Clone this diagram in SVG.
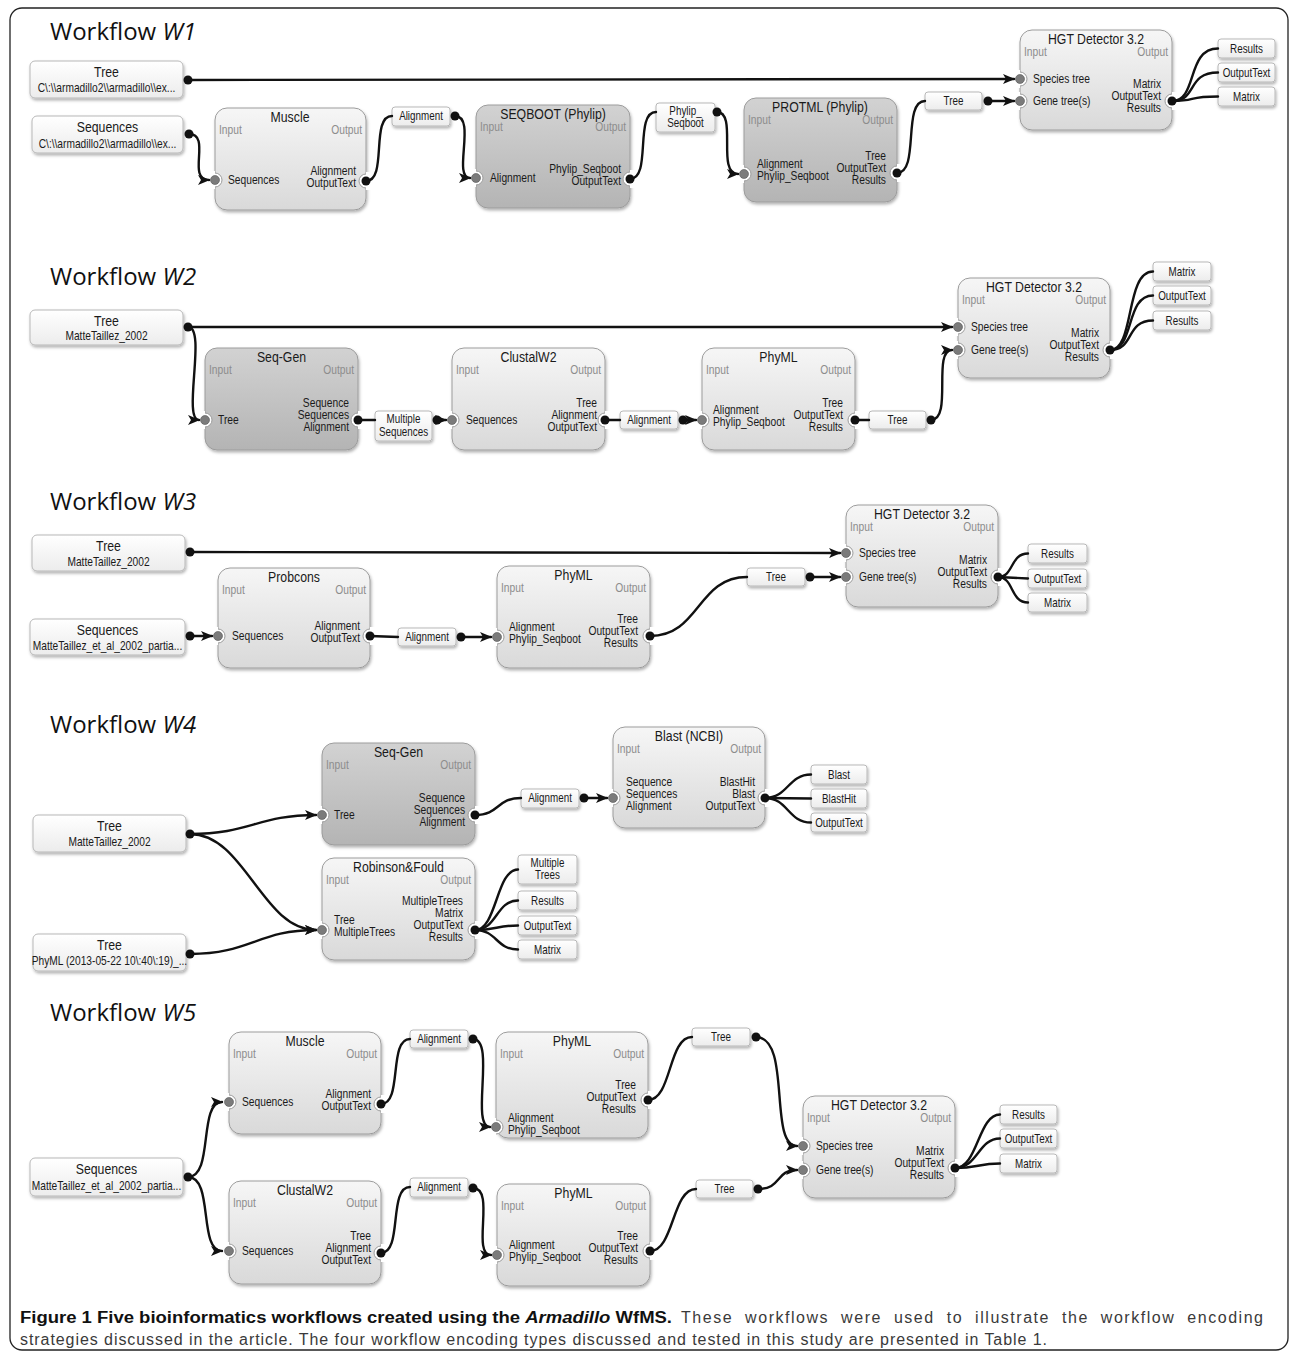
<svg xmlns="http://www.w3.org/2000/svg" width="1292" height="1358" viewBox="0 0 1292 1358">
<defs>
<linearGradient id="gL" x1="0" y1="0" x2="0" y2="1"><stop offset="0" stop-color="#f6f6f6"/><stop offset="1" stop-color="#d9d9d9"/></linearGradient>
<linearGradient id="gD" x1="0" y1="0" x2="0" y2="1"><stop offset="0" stop-color="#d2d2d2"/><stop offset="1" stop-color="#b4b4b4"/></linearGradient>
<linearGradient id="gW" x1="0" y1="0" x2="0" y2="1"><stop offset="0" stop-color="#ffffff"/><stop offset="1" stop-color="#ececec"/></linearGradient>
<filter id="sh" x="-10%" y="-10%" width="125%" height="135%"><feDropShadow dx="1" dy="2" stdDeviation="1.4" flood-color="#000" flood-opacity="0.3"/></filter>
<marker id="ar" viewBox="0 0 12 10" refX="11" refY="5" markerWidth="12" markerHeight="10" markerUnits="userSpaceOnUse" orient="auto"><path d="M0,0 L12,5 L0,10 L3,5 z" fill="#111"/></marker>
<g id="nL"><circle r="7" fill="#fff" stroke="#9c9c9c"/><rect x="-9" y="-9" width="9" height="18" fill="#fff"/><circle r="4.5" fill="#7b7b7b" stroke="#555" stroke-width="0.6"/></g>
<g id="nR"><circle r="7" fill="#fff" stroke="#9c9c9c"/><rect x="0" y="-9" width="9" height="18" fill="#fff"/></g>
</defs>
<style>
.mod{stroke:#9c9c9c;stroke-width:1;filter:url(#sh)}
.lt{fill:url(#gL)}
.dk{fill:url(#gD)}
.box{fill:url(#gW);stroke:#b8b8b8;stroke-width:1;filter:url(#sh)}
text{font-family:"Liberation Sans",Arial,sans-serif;fill:#1a1a1a}
.tt{font-size:15px;text-anchor:middle}
.io{font-size:12.5px;fill:#8c8c8c}
.e{text-anchor:end}
.pl{font-size:12.5px}
.bt{font-size:15px;text-anchor:middle}
.sub{font-size:12px;text-anchor:middle}
.lb{font-size:12px;text-anchor:middle}
.c{fill:none;stroke:#111;stroke-width:2.4;stroke-linecap:round}
.a{marker-end:url(#ar)}
.d{fill:#111}
.wf{font-family:"Open Sans","Liberation Sans",sans-serif;font-size:24px;fill:#111}
.cap{font-size:16px;fill:#3a3a3a}
.capb{font-size:16px;fill:#111;font-weight:bold}
</style>
<rect width="1292" height="1358" fill="#fff"/>
<rect x="10" y="8" width="1278" height="1342" rx="12" fill="none" stroke="#222" stroke-width="1.3"/>

<text class="wf" x="50" y="40">Workflow <tspan font-style="italic">W1</tspan></text>
<text class="wf" x="50" y="285">Workflow <tspan font-style="italic">W2</tspan></text>
<text class="wf" x="50" y="510">Workflow <tspan font-style="italic">W3</tspan></text>
<text class="wf" x="50" y="733">Workflow <tspan font-style="italic">W4</tspan></text>
<text class="wf" x="50" y="1021">Workflow <tspan font-style="italic">W5</tspan></text>

<!-- ===== W1 ===== -->
<g id="w1-tree"><rect class="box" x="30" y="61" width="153" height="37" rx="5"/><text class="bt" transform="translate(106.5 77) scale(.82 1)">Tree</text><text class="sub" transform="translate(106.5 92) scale(.85 1)">C\:\\armadillo2\\armadillo\\ex...</text></g>
<g id="w1-seq"><rect class="box" x="32" y="116" width="151" height="37" rx="5"/><text class="bt" transform="translate(107.5 132) scale(.82 1)">Sequences</text><text class="sub" transform="translate(107.5 148) scale(.85 1)">C\:\\armadillo2\\armadillo\\ex...</text></g>
<g id="w1-muscle"><rect class="mod lt" x="215" y="108" width="151" height="102" rx="12"/><use href="#nL" x="215" y="180"/><use href="#nR" x="366" y="181"/>
<text class="tt" transform="translate(290 122) scale(.82 1)">Muscle</text><text class="io" transform="translate(219 134) scale(.82 1)">Input</text><text class="io e" transform="translate(362 134) scale(.82 1)">Output</text>
<text class="pl" transform="translate(228 184) scale(.82 1)">Sequences</text><text class="pl e" transform="translate(356 175) scale(.82 1)">Alignment</text><text class="pl e" transform="translate(356 187) scale(.82 1)">OutputText</text></g>
<g id="w1-l-align"><rect class="box" x="392" y="107" width="58" height="19" rx="3"/><text class="lb" transform="translate(421 120) scale(.82 1)">Alignment</text></g>
<g id="w1-seqboot"><rect class="mod dk" x="476" y="105" width="154" height="103" rx="12"/><use href="#nL" x="476" y="178"/><use href="#nR" x="630" y="179"/>
<text class="tt" transform="translate(553 119) scale(.82 1)">SEQBOOT (Phylip)</text><text class="io" transform="translate(480 131) scale(.82 1)">Input</text><text class="io e" transform="translate(626 131) scale(.82 1)">Output</text>
<text class="pl" transform="translate(490 182) scale(.82 1)">Alignment</text><text class="pl e" transform="translate(621 173) scale(.82 1)">Phylip_Seqboot</text><text class="pl e" transform="translate(621 185) scale(.82 1)">OutputText</text></g>
<g id="w1-l-pseq"><rect class="box" x="656" y="103" width="59" height="29" rx="3"/><text class="lb" transform="translate(685.5 115) scale(.82 1)">Phylip_</text><text class="lb" transform="translate(685.5 127) scale(.82 1)">Seqboot</text></g>
<g id="w1-protml"><rect class="mod dk" x="744" y="98" width="153" height="104" rx="12"/><use href="#nL" x="744" y="174"/><use href="#nR" x="897" y="173"/>
<text class="tt" transform="translate(820 112) scale(.82 1)">PROTML (Phylip)</text><text class="io" transform="translate(748 124) scale(.82 1)">Input</text><text class="io e" transform="translate(893 124) scale(.82 1)">Output</text>
<text class="pl" transform="translate(757 168) scale(.82 1)">Alignment</text><text class="pl" transform="translate(757 180) scale(.82 1)">Phylip_Seqboot</text>
<text class="pl e" transform="translate(886 160) scale(.82 1)">Tree</text><text class="pl e" transform="translate(886 172) scale(.82 1)">OutputText</text><text class="pl e" transform="translate(886 184) scale(.82 1)">Results</text></g>
<g id="w1-l-tree"><rect class="box" x="925" y="92" width="57" height="18" rx="3"/><text class="lb" transform="translate(953.5 105) scale(.82 1)">Tree</text></g>
<g id="w1-hgt"><rect class="mod lt" x="1020" y="30" width="152" height="100" rx="12"/><use href="#nL" x="1020" y="79"/><use href="#nL" x="1020" y="101"/><use href="#nR" x="1172" y="101"/>
<text class="tt" transform="translate(1096 44) scale(.82 1)">HGT Detector 3.2</text><text class="io" transform="translate(1024 56) scale(.82 1)">Input</text><text class="io e" transform="translate(1168 56) scale(.82 1)">Output</text>
<text class="pl" transform="translate(1033 83) scale(.82 1)">Species tree</text><text class="pl" transform="translate(1033 105) scale(.82 1)">Gene tree(s)</text>
<text class="pl e" transform="translate(1161 88) scale(.82 1)">Matrix</text><text class="pl e" transform="translate(1161 100) scale(.82 1)">OutputText</text><text class="pl e" transform="translate(1161 112) scale(.82 1)">Results</text></g>
<g id="w1-o-results"><rect class="box" x="1218" y="39" width="57" height="19" rx="3"/><text class="lb" transform="translate(1246.5 53) scale(.82 1)">Results</text></g>
<g id="w1-o-outtext"><rect class="box" x="1218" y="63" width="57" height="19" rx="3"/><text class="lb" transform="translate(1246.5 77) scale(.82 1)">OutputText</text></g>
<g id="w1-o-matrix"><rect class="box" x="1218" y="87" width="57" height="19" rx="3"/><text class="lb" transform="translate(1246.5 101) scale(.82 1)">Matrix</text></g>

<!-- ===== W2 ===== -->
<g id="w2-tree"><rect class="box" x="30" y="310" width="153" height="35" rx="5"/><text class="bt" transform="translate(106.5 326) scale(.82 1)">Tree</text><text class="sub" transform="translate(106.5 340) scale(.85 1)">MatteTaillez_2002</text></g>
<g id="w2-seqgen"><rect class="mod dk" x="205" y="348" width="153" height="102" rx="12"/><use href="#nL" x="205" y="420"/><use href="#nR" x="358" y="420"/>
<text class="tt" transform="translate(281.5 362) scale(.82 1)">Seq-Gen</text><text class="io" transform="translate(209 374) scale(.82 1)">Input</text><text class="io e" transform="translate(354 374) scale(.82 1)">Output</text>
<text class="pl" transform="translate(218 424) scale(.82 1)">Tree</text><text class="pl e" transform="translate(349 407) scale(.82 1)">Sequence</text><text class="pl e" transform="translate(349 419) scale(.82 1)">Sequences</text><text class="pl e" transform="translate(349 431) scale(.82 1)">Alignment</text></g>
<g id="w2-l-mseq"><rect class="box" x="375" y="411" width="57" height="30" rx="3"/><text class="lb" transform="translate(403.5 423) scale(.82 1)">Multiple</text><text class="lb" transform="translate(403.5 436) scale(.82 1)">Sequences</text></g>
<g id="w2-clustal"><rect class="mod lt" x="452" y="348" width="153" height="102" rx="12"/><use href="#nL" x="452" y="420"/><use href="#nR" x="605" y="420"/>
<text class="tt" transform="translate(528.5 362) scale(.82 1)">ClustalW2</text><text class="io" transform="translate(456 374) scale(.82 1)">Input</text><text class="io e" transform="translate(601 374) scale(.82 1)">Output</text>
<text class="pl" transform="translate(466 424) scale(.82 1)">Sequences</text><text class="pl e" transform="translate(597 407) scale(.82 1)">Tree</text><text class="pl e" transform="translate(597 419) scale(.82 1)">Alignment</text><text class="pl e" transform="translate(597 431) scale(.82 1)">OutputText</text></g>
<g id="w2-l-align"><rect class="box" x="620" y="411" width="58" height="18" rx="3"/><text class="lb" transform="translate(649 424) scale(.82 1)">Alignment</text></g>
<g id="w2-phyml"><rect class="mod lt" x="702" y="348" width="153" height="102" rx="12"/><use href="#nL" x="702" y="420"/><use href="#nR" x="855" y="420"/>
<text class="tt" transform="translate(778.5 362) scale(.82 1)">PhyML</text><text class="io" transform="translate(706 374) scale(.82 1)">Input</text><text class="io e" transform="translate(851 374) scale(.82 1)">Output</text>
<text class="pl" transform="translate(713 414) scale(.82 1)">Alignment</text><text class="pl" transform="translate(713 426) scale(.82 1)">Phylip_Seqboot</text>
<text class="pl e" transform="translate(843 407) scale(.82 1)">Tree</text><text class="pl e" transform="translate(843 419) scale(.82 1)">OutputText</text><text class="pl e" transform="translate(843 431) scale(.82 1)">Results</text></g>
<g id="w2-l-tree"><rect class="box" x="869" y="411" width="57" height="18" rx="3"/><text class="lb" transform="translate(897.5 424) scale(.82 1)">Tree</text></g>
<g id="w2-hgt"><rect class="mod lt" x="958" y="278" width="152" height="100" rx="12"/><use href="#nL" x="958" y="327"/><use href="#nL" x="958" y="350"/><use href="#nR" x="1110" y="350"/>
<text class="tt" transform="translate(1034 292) scale(.82 1)">HGT Detector 3.2</text><text class="io" transform="translate(962 304) scale(.82 1)">Input</text><text class="io e" transform="translate(1106 304) scale(.82 1)">Output</text>
<text class="pl" transform="translate(971 331) scale(.82 1)">Species tree</text><text class="pl" transform="translate(971 354) scale(.82 1)">Gene tree(s)</text>
<text class="pl e" transform="translate(1099 337) scale(.82 1)">Matrix</text><text class="pl e" transform="translate(1099 349) scale(.82 1)">OutputText</text><text class="pl e" transform="translate(1099 361) scale(.82 1)">Results</text></g>
<g id="w2-o-matrix"><rect class="box" x="1153" y="262" width="58" height="19" rx="3"/><text class="lb" transform="translate(1182 276) scale(.82 1)">Matrix</text></g>
<g id="w2-o-outtext"><rect class="box" x="1153" y="286" width="58" height="19" rx="3"/><text class="lb" transform="translate(1182 300) scale(.82 1)">OutputText</text></g>
<g id="w2-o-results"><rect class="box" x="1153" y="311" width="58" height="19" rx="3"/><text class="lb" transform="translate(1182 325) scale(.82 1)">Results</text></g>

<!-- ===== W3 ===== -->
<g id="w3-tree"><rect class="box" x="32" y="535" width="153" height="36" rx="5"/><text class="bt" transform="translate(108.5 551) scale(.82 1)">Tree</text><text class="sub" transform="translate(108.5 566) scale(.85 1)">MatteTaillez_2002</text></g>
<g id="w3-seq"><rect class="box" x="30" y="619" width="155" height="36" rx="5"/><text class="bt" transform="translate(107.5 635) scale(.82 1)">Sequences</text><text class="sub" transform="translate(107.5 650) scale(.85 1)">MatteTaillez_et_al_2002_partia...</text></g>
<g id="w3-probcons"><rect class="mod lt" x="218" y="568" width="152" height="100" rx="12"/><use href="#nL" x="218" y="636"/><use href="#nR" x="370" y="636"/>
<text class="tt" transform="translate(294 582) scale(.82 1)">Probcons</text><text class="io" transform="translate(222 594) scale(.82 1)">Input</text><text class="io e" transform="translate(366 594) scale(.82 1)">Output</text>
<text class="pl" transform="translate(232 640) scale(.82 1)">Sequences</text><text class="pl e" transform="translate(360 630) scale(.82 1)">Alignment</text><text class="pl e" transform="translate(360 642) scale(.82 1)">OutputText</text></g>
<g id="w3-l-align"><rect class="box" x="398" y="628" width="58" height="18" rx="3"/><text class="lb" transform="translate(427 641) scale(.82 1)">Alignment</text></g>
<g id="w3-phyml"><rect class="mod lt" x="497" y="566" width="153" height="102" rx="12"/><use href="#nL" x="497" y="637"/><use href="#nR" x="650" y="636"/>
<text class="tt" transform="translate(573.5 580) scale(.82 1)">PhyML</text><text class="io" transform="translate(501 592) scale(.82 1)">Input</text><text class="io e" transform="translate(646 592) scale(.82 1)">Output</text>
<text class="pl" transform="translate(509 631) scale(.82 1)">Alignment</text><text class="pl" transform="translate(509 643) scale(.82 1)">Phylip_Seqboot</text>
<text class="pl e" transform="translate(638 623) scale(.82 1)">Tree</text><text class="pl e" transform="translate(638 635) scale(.82 1)">OutputText</text><text class="pl e" transform="translate(638 647) scale(.82 1)">Results</text></g>
<g id="w3-l-tree"><rect class="box" x="747" y="568" width="58" height="18" rx="3"/><text class="lb" transform="translate(776 581) scale(.82 1)">Tree</text></g>
<g id="w3-hgt"><rect class="mod lt" x="846" y="505" width="152" height="102" rx="12"/><use href="#nL" x="846" y="553"/><use href="#nL" x="846" y="577"/><use href="#nR" x="998" y="577"/>
<text class="tt" transform="translate(922 519) scale(.82 1)">HGT Detector 3.2</text><text class="io" transform="translate(850 531) scale(.82 1)">Input</text><text class="io e" transform="translate(994 531) scale(.82 1)">Output</text>
<text class="pl" transform="translate(859 557) scale(.82 1)">Species tree</text><text class="pl" transform="translate(859 581) scale(.82 1)">Gene tree(s)</text>
<text class="pl e" transform="translate(987 564) scale(.82 1)">Matrix</text><text class="pl e" transform="translate(987 576) scale(.82 1)">OutputText</text><text class="pl e" transform="translate(987 588) scale(.82 1)">Results</text></g>
<g id="w3-o-results"><rect class="box" x="1028" y="544" width="59" height="19" rx="3"/><text class="lb" transform="translate(1057.5 558) scale(.82 1)">Results</text></g>
<g id="w3-o-outtext"><rect class="box" x="1028" y="569" width="59" height="19" rx="3"/><text class="lb" transform="translate(1057.5 583) scale(.82 1)">OutputText</text></g>
<g id="w3-o-matrix"><rect class="box" x="1028" y="593" width="59" height="19" rx="3"/><text class="lb" transform="translate(1057.5 607) scale(.82 1)">Matrix</text></g>

<!-- ===== W4 ===== -->
<g id="w4-tree1"><rect class="box" x="33" y="815" width="153" height="37" rx="5"/><text class="bt" transform="translate(109.5 831) scale(.82 1)">Tree</text><text class="sub" transform="translate(109.5 846) scale(.85 1)">MatteTaillez_2002</text></g>
<g id="w4-tree2"><rect class="box" x="33" y="934" width="153" height="37" rx="5"/><text class="bt" transform="translate(109.5 950) scale(.82 1)">Tree</text><text class="sub" transform="translate(109.5 965) scale(.85 1)">PhyML (2013-05-22 10\:40\:19)_...</text></g>
<g id="w4-seqgen"><rect class="mod dk" x="322" y="743" width="153" height="102" rx="12"/><use href="#nL" x="322" y="815"/><use href="#nR" x="475" y="815"/>
<text class="tt" transform="translate(398.5 757) scale(.82 1)">Seq-Gen</text><text class="io" transform="translate(326 769) scale(.82 1)">Input</text><text class="io e" transform="translate(471 769) scale(.82 1)">Output</text>
<text class="pl" transform="translate(334 819) scale(.82 1)">Tree</text><text class="pl e" transform="translate(465 802) scale(.82 1)">Sequence</text><text class="pl e" transform="translate(465 814) scale(.82 1)">Sequences</text><text class="pl e" transform="translate(465 826) scale(.82 1)">Alignment</text></g>
<g id="w4-rf"><rect class="mod lt" x="322" y="858" width="153" height="102" rx="12"/><use href="#nL" x="322" y="930"/><use href="#nR" x="475" y="930"/>
<text class="tt" transform="translate(398.5 872) scale(.82 1)">Robinson&amp;Fould</text><text class="io" transform="translate(326 884) scale(.82 1)">Input</text><text class="io e" transform="translate(471 884) scale(.82 1)">Output</text>
<text class="pl" transform="translate(334 924) scale(.82 1)">Tree</text><text class="pl" transform="translate(334 936) scale(.82 1)">MultipleTrees</text>
<text class="pl e" transform="translate(463 905) scale(.82 1)">MultipleTrees</text><text class="pl e" transform="translate(463 917) scale(.82 1)">Matrix</text><text class="pl e" transform="translate(463 929) scale(.82 1)">OutputText</text><text class="pl e" transform="translate(463 941) scale(.82 1)">Results</text></g>
<g id="w4-l-align"><rect class="box" x="521" y="789" width="58" height="19" rx="3"/><text class="lb" transform="translate(550 802) scale(.82 1)">Alignment</text></g>
<g id="w4-blast"><rect class="mod lt" x="613" y="727" width="152" height="101" rx="12"/><use href="#nL" x="613" y="798"/><use href="#nR" x="765" y="798"/>
<text class="tt" transform="translate(689 741) scale(.82 1)">Blast (NCBI)</text><text class="io" transform="translate(617 753) scale(.82 1)">Input</text><text class="io e" transform="translate(761 753) scale(.82 1)">Output</text>
<text class="pl" transform="translate(626 786) scale(.82 1)">Sequence</text><text class="pl" transform="translate(626 798) scale(.82 1)">Sequences</text><text class="pl" transform="translate(626 810) scale(.82 1)">Alignment</text>
<text class="pl e" transform="translate(755 786) scale(.82 1)">BlastHit</text><text class="pl e" transform="translate(755 798) scale(.82 1)">Blast</text><text class="pl e" transform="translate(755 810) scale(.82 1)">OutputText</text></g>
<g id="w4-o-blast"><rect class="box" x="811" y="765" width="56" height="19" rx="3"/><text class="lb" transform="translate(839 779) scale(.82 1)">Blast</text></g>
<g id="w4-o-blasthit"><rect class="box" x="811" y="789" width="56" height="19" rx="3"/><text class="lb" transform="translate(839 803) scale(.82 1)">BlastHit</text></g>
<g id="w4-o-outtext1"><rect class="box" x="811" y="813" width="56" height="19" rx="3"/><text class="lb" transform="translate(839 827) scale(.82 1)">OutputText</text></g>
<g id="w4-o-mtrees"><rect class="box" x="518" y="855" width="59" height="29" rx="3"/><text class="lb" transform="translate(547.5 867) scale(.82 1)">Multiple</text><text class="lb" transform="translate(547.5 879) scale(.82 1)">Trees</text></g>
<g id="w4-o-results"><rect class="box" x="518" y="891" width="59" height="19" rx="3"/><text class="lb" transform="translate(547.5 905) scale(.82 1)">Results</text></g>
<g id="w4-o-outtext2"><rect class="box" x="518" y="916" width="59" height="19" rx="3"/><text class="lb" transform="translate(547.5 930) scale(.82 1)">OutputText</text></g>
<g id="w4-o-matrix"><rect class="box" x="518" y="940" width="59" height="19" rx="3"/><text class="lb" transform="translate(547.5 954) scale(.82 1)">Matrix</text></g>

<!-- ===== W5 ===== -->
<g id="w5-seq"><rect class="box" x="30" y="1158" width="153" height="38" rx="5"/><text class="bt" transform="translate(106.5 1174) scale(.82 1)">Sequences</text><text class="sub" transform="translate(106.5 1190) scale(.85 1)">MatteTaillez_et_al_2002_partia...</text></g>
<g id="w5-muscle"><rect class="mod lt" x="229" y="1032" width="152" height="102" rx="12"/><use href="#nL" x="229" y="1102"/><use href="#nR" x="381" y="1104"/>
<text class="tt" transform="translate(305 1046) scale(.82 1)">Muscle</text><text class="io" transform="translate(233 1058) scale(.82 1)">Input</text><text class="io e" transform="translate(377 1058) scale(.82 1)">Output</text>
<text class="pl" transform="translate(242 1106) scale(.82 1)">Sequences</text><text class="pl e" transform="translate(371 1098) scale(.82 1)">Alignment</text><text class="pl e" transform="translate(371 1110) scale(.82 1)">OutputText</text></g>
<g id="w5-clustal"><rect class="mod lt" x="229" y="1181" width="152" height="103" rx="12"/><use href="#nL" x="229" y="1251"/><use href="#nR" x="381" y="1253"/>
<text class="tt" transform="translate(305 1195) scale(.82 1)">ClustalW2</text><text class="io" transform="translate(233 1207) scale(.82 1)">Input</text><text class="io e" transform="translate(377 1207) scale(.82 1)">Output</text>
<text class="pl" transform="translate(242 1255) scale(.82 1)">Sequences</text><text class="pl e" transform="translate(371 1240) scale(.82 1)">Tree</text><text class="pl e" transform="translate(371 1252) scale(.82 1)">Alignment</text><text class="pl e" transform="translate(371 1264) scale(.82 1)">OutputText</text></g>
<g id="w5-l-align1"><rect class="box" x="410" y="1030" width="58" height="18" rx="3"/><text class="lb" transform="translate(439 1043) scale(.82 1)">Alignment</text></g>
<g id="w5-l-align2"><rect class="box" x="410" y="1178" width="58" height="19" rx="3"/><text class="lb" transform="translate(439 1191) scale(.82 1)">Alignment</text></g>
<g id="w5-phyml1"><rect class="mod lt" x="496" y="1032" width="152" height="106" rx="12"/><use href="#nL" x="496" y="1127"/><use href="#nR" x="648" y="1100"/>
<text class="tt" transform="translate(572 1046) scale(.82 1)">PhyML</text><text class="io" transform="translate(500 1058) scale(.82 1)">Input</text><text class="io e" transform="translate(644 1058) scale(.82 1)">Output</text>
<text class="pl" transform="translate(508 1122) scale(.82 1)">Alignment</text><text class="pl" transform="translate(508 1134) scale(.82 1)">Phylip_Seqboot</text>
<text class="pl e" transform="translate(636 1089) scale(.82 1)">Tree</text><text class="pl e" transform="translate(636 1101) scale(.82 1)">OutputText</text><text class="pl e" transform="translate(636 1113) scale(.82 1)">Results</text></g>
<g id="w5-phyml2"><rect class="mod lt" x="497" y="1184" width="153" height="102" rx="12"/><use href="#nL" x="497" y="1255"/><use href="#nR" x="650" y="1251"/>
<text class="tt" transform="translate(573.5 1198) scale(.82 1)">PhyML</text><text class="io" transform="translate(501 1210) scale(.82 1)">Input</text><text class="io e" transform="translate(646 1210) scale(.82 1)">Output</text>
<text class="pl" transform="translate(509 1249) scale(.82 1)">Alignment</text><text class="pl" transform="translate(509 1261) scale(.82 1)">Phylip_Seqboot</text>
<text class="pl e" transform="translate(638 1240) scale(.82 1)">Tree</text><text class="pl e" transform="translate(638 1252) scale(.82 1)">OutputText</text><text class="pl e" transform="translate(638 1264) scale(.82 1)">Results</text></g>
<g id="w5-l-tree1"><rect class="box" x="692" y="1028" width="58" height="18" rx="3"/><text class="lb" transform="translate(721 1041) scale(.82 1)">Tree</text></g>
<g id="w5-l-tree2"><rect class="box" x="696" y="1180" width="57" height="18" rx="3"/><text class="lb" transform="translate(724.5 1193) scale(.82 1)">Tree</text></g>
<g id="w5-hgt"><rect class="mod lt" x="803" y="1096" width="152" height="102" rx="12"/><use href="#nL" x="803" y="1146"/><use href="#nL" x="803" y="1170"/><use href="#nR" x="955" y="1168"/>
<text class="tt" transform="translate(879 1110) scale(.82 1)">HGT Detector 3.2</text><text class="io" transform="translate(807 1122) scale(.82 1)">Input</text><text class="io e" transform="translate(951 1122) scale(.82 1)">Output</text>
<text class="pl" transform="translate(816 1150) scale(.82 1)">Species tree</text><text class="pl" transform="translate(816 1174) scale(.82 1)">Gene tree(s)</text>
<text class="pl e" transform="translate(944 1155) scale(.82 1)">Matrix</text><text class="pl e" transform="translate(944 1167) scale(.82 1)">OutputText</text><text class="pl e" transform="translate(944 1179) scale(.82 1)">Results</text></g>
<g id="w5-o-results"><rect class="box" x="1000" y="1105" width="57" height="19" rx="3"/><text class="lb" transform="translate(1028.5 1119) scale(.82 1)">Results</text></g>
<g id="w5-o-outtext"><rect class="box" x="1000" y="1129" width="57" height="19" rx="3"/><text class="lb" transform="translate(1028.5 1143) scale(.82 1)">OutputText</text></g>
<g id="w5-o-matrix"><rect class="box" x="1000" y="1154" width="57" height="19" rx="3"/><text class="lb" transform="translate(1028.5 1168) scale(.82 1)">Matrix</text></g>

<!-- ===== Connectors ===== -->
<g id="connectors">
<path class="c a" d="M188,80 L1014,79"/>
<path class="c a" d="M189,134 C212,134 186,180 209,180"/>
<path class="c" d="M366,181 C388,181 370,116 392,116"/>
<path class="c a" d="M455,116 C477,116 452,178 470,178"/>
<path class="c" d="M630,179 C652,179 634,112 656,112"/>
<path class="c a" d="M717,112 C738,112 716,174 738,174"/>
<path class="c" d="M897,173 C920,173 902,101 925,101"/>
<path class="c a" d="M988,101 L1014,101"/>
<path class="c" d="M1172,101 C1198,101 1186,48.5 1218,48.5"/>
<path class="c" d="M1172,101 C1198,101 1186,72.5 1218,72.5"/>
<path class="c" d="M1172,101 C1198,101 1186,96.5 1218,96.5"/>
<path class="c a" d="M188,327 L952,327"/>
<path class="c a" d="M188,327 C207,327 182,420 199,420"/>
<path class="c" d="M358,420 L375,420"/>
<path class="c a" d="M437,420 L446,420"/>
<path class="c" d="M605,420 L620,420"/>
<path class="c a" d="M683,420 L696,420"/>
<path class="c" d="M855,420 L869,420"/>
<path class="c a" d="M931,420 C953,420 932,350 952,350"/>
<path class="c" d="M1110,350 C1135,350 1125,271.5 1153,271.5"/>
<path class="c" d="M1110,350 C1135,350 1125,295.5 1153,295.5"/>
<path class="c" d="M1110,350 C1135,350 1125,320.5 1153,320.5"/>
<path class="c a" d="M190,552 L840,553"/>
<path class="c a" d="M190,636 L212,636"/>
<path class="c" d="M370,636 L398,637"/>
<path class="c a" d="M461,637 L491,637"/>
<path class="c" d="M650,636 C700,636 697,577 747,577"/>
<path class="c a" d="M810,577 L840,577"/>
<path class="c" d="M998,577 C1014,577 1010,553.5 1028,553.5"/>
<path class="c" d="M998,577 L1028,578.5"/>
<path class="c" d="M998,577 C1014,577 1010,602.5 1028,602.5"/>
<path class="c a" d="M190,834 C250,834 258,815 316,815"/>
<path class="c a" d="M190,834 C245,834 262,930 316,930"/>
<path class="c a" d="M190,954 C250,954 258,930 316,930"/>
<path class="c" d="M475,815 C500,815 496,798 521,798"/>
<path class="c a" d="M584,798 L607,798"/>
<path class="c" d="M765,798 C788,798 788,774.5 811,774.5"/>
<path class="c" d="M765,798 L811,798.5"/>
<path class="c" d="M765,798 C788,798 788,822.5 811,822.5"/>
<path class="c" d="M475,930 C497,930 496,869.5 518,869.5"/>
<path class="c" d="M475,930 C497,930 496,900.5 518,900.5"/>
<path class="c" d="M475,930 C497,930 496,925.5 518,925.5"/>
<path class="c" d="M475,930 C497,930 496,949.5 518,949.5"/>
<path class="c a" d="M188,1177 C214,1177 198,1102 222,1102"/>
<path class="c a" d="M188,1177 C214,1177 198,1251 222,1251"/>
<path class="c" d="M381,1104 C403,1104 388,1039 410,1039"/>
<path class="c a" d="M473,1039 C496,1039 470,1127 490,1127"/>
<path class="c" d="M648,1100 C672,1100 668,1037 692,1037"/>
<path class="c a" d="M756,1037 C792,1037 768,1146 797,1146"/>
<path class="c" d="M381,1253 C403,1253 388,1187 410,1187"/>
<path class="c a" d="M473,1188 C496,1188 471,1255 491,1255"/>
<path class="c" d="M650,1251 C674,1251 672,1189 696,1189"/>
<path class="c a" d="M758,1189 C782,1189 775,1170 797,1170"/>
<path class="c" d="M955,1168 C978,1168 978,1114.5 1000,1114.5"/>
<path class="c" d="M955,1168 C978,1168 978,1138.5 1000,1138.5"/>
<path class="c" d="M955,1168 C978,1168 978,1163.5 1000,1163.5"/>
<g class="d">
<circle cx="188" cy="80" r="4.5"/><circle cx="189" cy="134" r="4.5"/><circle cx="366" cy="181" r="4.5"/><circle cx="455" cy="116" r="4.5"/><circle cx="630" cy="179" r="4.5"/><circle cx="717" cy="112" r="4.5"/><circle cx="897" cy="173" r="4.5"/><circle cx="988" cy="101" r="4.5"/><circle cx="1172" cy="101" r="4.5"/>
<circle cx="188" cy="327" r="4.5"/><circle cx="358" cy="420" r="4.5"/><circle cx="437" cy="420" r="4.5"/><circle cx="605" cy="420" r="4.5"/><circle cx="683" cy="420" r="4.5"/><circle cx="855" cy="420" r="4.5"/><circle cx="931" cy="420" r="4.5"/><circle cx="1110" cy="350" r="4.5"/>
<circle cx="190" cy="552" r="4.5"/><circle cx="190" cy="636" r="4.5"/><circle cx="370" cy="636" r="4.5"/><circle cx="461" cy="637" r="4.5"/><circle cx="650" cy="636" r="4.5"/><circle cx="810" cy="577" r="4.5"/><circle cx="998" cy="577" r="4.5"/>
<circle cx="190" cy="834" r="4.5"/><circle cx="190" cy="954" r="4.5"/><circle cx="475" cy="815" r="4.5"/><circle cx="584" cy="798" r="4.5"/><circle cx="765" cy="798" r="4.5"/><circle cx="475" cy="930" r="4.5"/>
<circle cx="188" cy="1177" r="4.5"/><circle cx="381" cy="1104" r="4.5"/><circle cx="473" cy="1039" r="4.5"/><circle cx="648" cy="1100" r="4.5"/><circle cx="756" cy="1037" r="4.5"/><circle cx="381" cy="1253" r="4.5"/><circle cx="473" cy="1188" r="4.5"/><circle cx="650" cy="1251" r="4.5"/><circle cx="758" cy="1189" r="4.5"/><circle cx="955" cy="1168" r="4.5"/>
</g>
</g>

<text class="capb" x="20" y="1323" textLength="652" lengthAdjust="spacingAndGlyphs">Figure 1 Five bioinformatics workflows created using the <tspan font-style="italic">Armadillo</tspan> WfMS.</text>
<text class="cap" x="681" y="1323" font-size="17" word-spacing="6" textLength="582" lengthAdjust="spacing">These workflows were used to illustrate the workflow encoding</text>
<text class="cap" x="20" y="1345" textLength="1027" lengthAdjust="spacing">strategies discussed in the article. The four workflow encoding types discussed and tested in this study are presented in Table 1.</text>
</svg>
